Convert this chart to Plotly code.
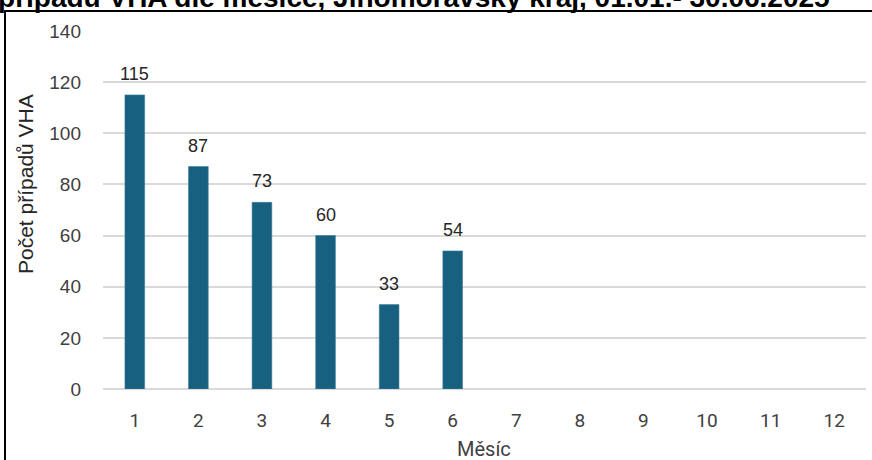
import plotly.graph_objects as go

months = [1, 2, 3, 4, 5, 6, 7, 8, 9, 10, 11, 12]
cases = [115, 87, 73, 60, 33, 54, None, None, None, None, None, None]
title_text = "Počet případů VHA dle měsíce, Jihomoravský kraj, 01.01.- 30.06.2025"
y_title = "Počet případů VHA"
x_title = "Měsíc"

W, H = 872, 460
L, R, T, B = 103, 6, 31, 71
pw = W - L - R
ph = H - T - B


def px(x):
    return (x - L) / pw


def py(y):
    return (H - B - y) / ph


bar_color = "#17607F"
cats = [str(m) for m in months]

fig = go.Figure()
fig.add_trace(go.Bar(
    x=cats,
    y=cases,
    marker=dict(color=bar_color, line=dict(color="#3F7E9B", width=0.6)),
    width=0.31,
    hoverinfo="x+y",
))

for i, v in enumerate(cases):
    if v is None:
        continue
    fig.add_annotation(
        x=i, y=v, xref="x", yref="y",
        text=str(v), showarrow=False,
        yanchor="bottom", yshift=9,
        font=dict(family="Liberation Sans", size=18, color="#262626"),
    )

fig.add_annotation(
    x=px(25), y=py(184), xref="paper", yref="paper",
    text=y_title, textangle=-90, showarrow=False,
    xanchor="center", yanchor="middle",
    font=dict(family="Liberation Sans", size=21, color="#262626"),
)
fig.add_annotation(
    x=px(484), y=py(449), xref="paper", yref="paper",
    text=x_title, showarrow=False,
    xanchor="center", yanchor="middle",
    font=dict(family="Roboto", size=20, color="#404040"),
)
fig.add_annotation(
    x=px(832), y=py(15), xref="paper", yref="paper",
    text="<b>" + title_text + "</b>", showarrow=False,
    xanchor="right", yanchor="bottom",
    font=dict(family="Liberation Sans", size=28, color="#000000"),
)

fig.add_shape(
    type="rect", xref="paper", yref="paper",
    x0=px(5), x1=px(900), y0=py(11), y1=py(500),
    line=dict(color="#000000", width=2), fillcolor="rgba(0,0,0,0)",
    layer="above",
)

fig.update_layout(
    width=W, height=H,
    margin=dict(l=L, r=R, t=T, b=B, pad=0),
    paper_bgcolor="white", plot_bgcolor="white",
    showlegend=False,
    xaxis=dict(
        type="category",
        tickfont=dict(family="Roboto", size=19, color="#404040"),
        showgrid=False, showline=False, zeroline=False,
        ticks="", ticklabelstandoff=18,
    ),
    yaxis=dict(
        range=[0, 140], dtick=20,
        tickfont=dict(family="Liberation Sans", size=19, color="#404040"),
        showgrid=True, gridcolor="#D9D9D9", gridwidth=1.5,
        zeroline=True, zerolinecolor="#D9D9D9", zerolinewidth=1.5,
        showline=False, ticks="", ticklabelstandoff=21,
    ),
)

fig.write_html("out.html")
